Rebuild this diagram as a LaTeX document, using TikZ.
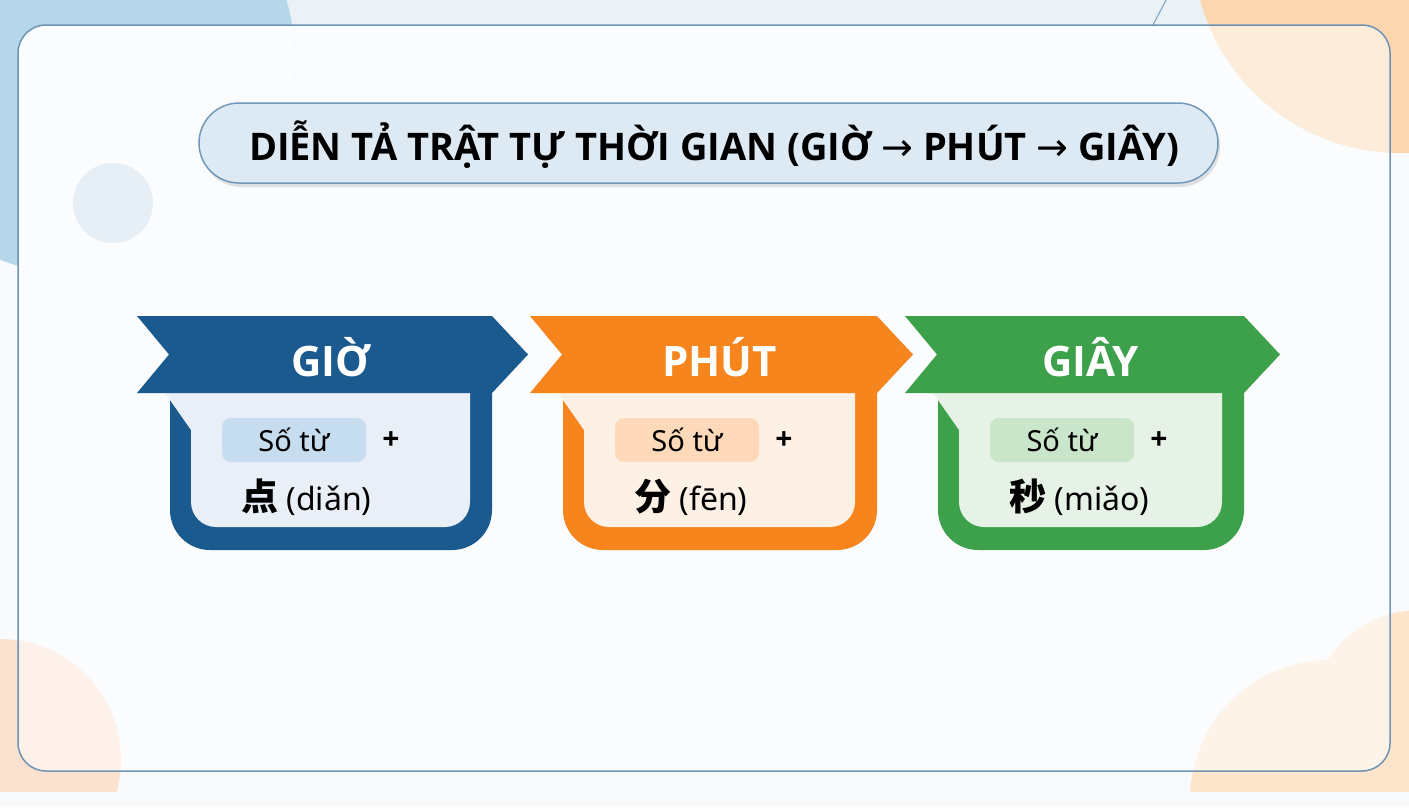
\documentclass[tikz,border=0pt]{standalone}
\usepackage{fontspec}
\setmainfont{Noto Sans}
\newfontfamily\hd{Open Sans}
\newfontfamily\cjk{Noto Sans CJK SC}
\newfontfamily\arr{DejaVu Sans}
\usetikzlibrary{shadows}
\definecolor{bgc}{HTML}{F8FAFC}
\definecolor{stripc}{HTML}{EAF2F8}
\definecolor{bluec}{HTML}{B6D6EA}
\definecolor{smallc}{HTML}{E7EFF6}
\definecolor{orc}{HTML}{FCD6AE}
\definecolor{peachc}{HTML}{FBE2D0}
\definecolor{peach2c}{HTML}{FDE5CC}
\definecolor{framec}{HTML}{6F93B3}
\definecolor{titlefill}{HTML}{DDE9F3}
\definecolor{titledraw}{HTML}{7399B9}
\definecolor{bmain}{HTML}{1B5A8E}
\definecolor{bpanel}{HTML}{E8EFF6}
\definecolor{bpill}{HTML}{C6DDF0}
\definecolor{omain}{HTML}{F7851E}
\definecolor{opanel}{HTML}{FDF0E4}
\definecolor{opill}{HTML}{FDD9BA}
\definecolor{gmain}{HTML}{3DA04A}
\definecolor{gpanel}{HTML}{E6F2E5}
\definecolor{gpill}{HTML}{C9E6CB}
\tikzset{
  titlebox/.style={draw=titledraw, line width=1.5pt, fill=titlefill, rounded corners=40pt,
    minimum width=1019pt, minimum height=80pt, inner sep=0pt,
    drop shadow={opacity=0.22, shadow xshift=2pt, shadow yshift=-4pt}},
  titletxt/.style={inner sep=0pt, font=\hd\bfseries\fontsize{38}{42}\selectfont},
  bantxt/.style={text=white, font=\hd\bfseries\fontsize{42}{46}\selectfont, inner sep=0pt},
  pillbox/.style={rounded corners=9pt, minimum width=144pt, minimum height=44pt, inner sep=0pt,
    font=\fontsize{29}{32}\selectfont},
  plustxt/.style={font=\hd\bfseries\fontsize{30}{32}\selectfont, inner sep=0pt},
  hanline/.style={anchor=west, inner sep=0pt, font=\fontsize{32}{36}\selectfont},
}
% #1 left, #2 tip, #3 colour prefix, #4 title, #5 hanzi, #6 pinyin, #7 name
\newcommand\mycard[7]{%
  \pgfmathsetmacro\xN{#1+32}%
  \pgfmathsetmacro\xR{#2-36}%
  \pgfmathsetmacro\xBL{#1+33}%
  \pgfmathsetmacro\xPL{#1+54}%
  \pgfmathsetmacro\xPR{#2-58}%
  \pgfmathsetmacro\xF{#1+22.5}%
  \pgfmathsetmacro\xT{(\xN+\xR)/2}%
  \fill[#3main] (\xBL,390) [rounded corners=40pt] -- (\xBL,550) -- (\xR,550) [sharp corners] -- (\xR,390) -- cycle;
  \fill[#3panel] (\xF,385) -- (\xPR,385) [rounded corners=25pt] -- (\xPR,527) -- (\xPL,527) [sharp corners] -- (\xPL,430) -- cycle;
  \fill[#3main] (#1,316) -- (\xR,316) -- (#2,354.5) -- (\xR,393) -- (#1,393) -- (\xN,354.5) -- cycle;
  \node[bantxt] (#7t) at (\xT,357) {#4};
  \node[pillbox, fill=#3pill] (#7p) at (#1+157,440) {Số từ};
  \node[plustxt] (#7plus) at (#1+254,441) {+};
  \node[hanline] (#7h) at (#1+104,497) {{\cjk\bfseries\fontsize{37}{40}\selectfont #5} #6};
}
\begin{document}
\begin{tikzpicture}[x=1pt,y=-1pt]
\useasboundingbox (0,0) rectangle (1409,807);
\fill[bgc] (0,0) rectangle (1409,807);
\begin{scope}
  \clip (0,0) rectangle (1409,791);
  \fill[stripc] (0,0) rectangle (1409,25);
  \fill[bluec] (80,60) circle[radius=215pt];
  \fill[orc] (1400,-54) circle[radius=207pt];
  \fill[peachc] (0,760) circle[radius=121pt];
  \fill[peach2c] (1330,800) circle[radius=140pt];
  \fill[peach2c] (1420,720) circle[radius=110pt];
\end{scope}
\draw[framec!80, line width=1.2pt] (1166,0) -- (1153,25);
% frame
\fill[white, opacity=0.55, rounded corners=28pt] (18,25) rectangle (1390,771);
\begin{scope}
  \clip[rounded corners=28pt] (18,25) rectangle (1390,771);
  \fill[white, opacity=0.85] (80,60) circle[radius=215pt];
\end{scope}
\fill[smallc] (113,203) circle[radius=40pt];
\draw[framec, line width=1.5pt, rounded corners=28pt] (18,25) rectangle (1390,771);
% title
\node[titlebox] (title) at (708.5,143) {};
\node[titletxt] (titletext) at (714,145) {DIỄN TẢ TRẬT TỰ THỜI GIAN (GIỜ {\arr\mdseries →} PHÚT {\arr\mdseries →} GIÂY)};
% cards
\mycard{137}{528}{b}{GIỜ}{点}{(diǎn)}{gio}
\mycard{530}{913}{o}{PHÚT}{分}{(fēn)}{phut}
\mycard{905}{1280}{g}{GIÂY}{秒}{(miǎo)}{giay}
\end{tikzpicture}
\end{document}
